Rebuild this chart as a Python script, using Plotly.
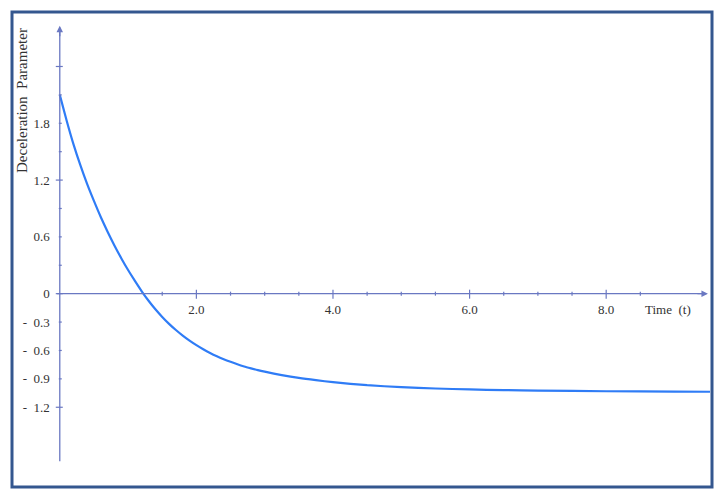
import plotly.graph_objects as go

# ---- data ----
t_vals = [0.0, 0.1, 0.2, 0.3, 0.4, 0.5, 0.6, 0.7, 0.8, 0.9, 1.0, 1.1, 1.2, 1.3,
          1.4, 1.5, 1.6, 1.7, 1.8, 1.9, 2.0, 2.1, 2.2, 2.3, 2.4, 2.5, 2.6, 2.7,
          2.8, 2.9, 3.0, 3.25, 3.5, 3.75, 4.0, 4.5, 5.0, 5.5, 6.0, 6.5, 7.0,
          8.0, 9.0, 9.52]
q_vals = [2.10, 1.83, 1.58, 1.36, 1.16, 0.98, 0.81, 0.655, 0.51, 0.375, 0.25,
          0.135, 0.025, -0.075, -0.165, -0.246, -0.319, -0.384, -0.443, -0.496,
          -0.544, -0.587, -0.626, -0.661, -0.692, -0.720, -0.746, -0.769,
          -0.789, -0.808, -0.824, -0.860, -0.890, -0.914, -0.935, -0.967,
          -0.988, -1.002, -1.012, -1.019, -1.024, -1.031, -1.035, -1.036]

x_label_vals = [2, 4, 6, 8]
x_label_text = ["2.0", "4.0", "6.0", "8.0"]
x_major_ticks = [2, 4, 6, 8]
x_minor_ticks = [1.5, 2.5, 3.0, 3.5, 4.5, 5.0, 5.5, 6.5, 7.0, 7.5, 8.5]

NB = "\u00a0"
y_label_vals = [1.8, 1.2, 0.6, 0, -0.3, -0.6, -0.9, -1.2]
y_label_text = ["1.8", "1.2", "0.6", "0", "-" + NB * 2 + "0.3", "-" + NB * 2 + "0.6",
                "-" + NB * 2 + "0.9", "-" + NB * 2 + "1.2"]
y_major_ticks = [2.4, 1.2, 0, -1.2]
y_minor_ticks = [2.1, 1.8, 1.5, 0.9, 0.6, 0.3, -0.3, -0.6, -0.9]

X_RANGE = [-0.07, 9.52]
Y_RANGE = [-1.81, 2.87]
X_AXIS_END = 9.49
Y_AXIS_TOP = 2.83
Y_AXIS_BOTTOM = -1.77

# ---- layout geometry (page body has an 8px margin) ----
OFF = 8
W, H = 722 - OFF, 493 - OFF
L, T = 55 - OFF, 22 - OFF
PW, PH = 655, 443
R, B = W - L - PW, H - T - PH

def px_x(p):  # window pixel -> paper x
    return (p - OFF - L) / PW

def px_y(p):  # window pixel -> paper y
    return (T + PH - (p - OFF)) / PH

AXIS_COLOR = "#6a78c2"
CURVE_COLOR = "#2f7cf6"
FRAME_COLOR = "#34578f"
TEXT_COLOR = "#333333"
SERIF = "Liberation Serif, Times New Roman, serif"

fig = go.Figure()
fig.add_trace(go.Scatter(
    x=t_vals, y=q_vals, mode="lines",
    line=dict(color=CURVE_COLOR, width=2.2, shape="spline", smoothing=0.6),
    hoverinfo="skip", showlegend=False,
))

shapes = []
# frame
shapes.append(dict(type="rect", xref="paper", yref="paper",
                   x0=px_x(12), x1=px_x(712), y0=px_y(487), y1=px_y(12),
                   line=dict(color=FRAME_COLOR, width=3), layer="below"))
# y axis line
shapes.append(dict(type="line", xref="x", yref="y", x0=0, x1=0,
                   y0=Y_AXIS_BOTTOM, y1=Y_AXIS_TOP - 0.05,
                   line=dict(color=AXIS_COLOR, width=1.3)))
# x axis line
shapes.append(dict(type="line", xref="x", yref="y", x0=-0.04, x1=X_AXIS_END - 0.05,
                   y0=0, y1=0, line=dict(color=AXIS_COLOR, width=1.3)))

for v in x_major_ticks:
    shapes.append(dict(type="line", xref="x", yref="y", ysizemode="pixel", yanchor=0,
                       x0=v, x1=v, y0=-5, y1=4, line=dict(color=AXIS_COLOR, width=1.2)))
for v in x_minor_ticks:
    shapes.append(dict(type="line", xref="x", yref="y", ysizemode="pixel", yanchor=0,
                       x0=v, x1=v, y0=-2, y1=2, line=dict(color=AXIS_COLOR, width=1.2)))
for v in y_major_ticks:
    shapes.append(dict(type="line", xref="x", yref="y", xsizemode="pixel", xanchor=0,
                       x0=-4, x1=3, y0=v, y1=v, line=dict(color=AXIS_COLOR, width=1.2)))
for v in y_minor_ticks:
    shapes.append(dict(type="line", xref="x", yref="y", xsizemode="pixel", xanchor=0,
                       x0=-1, x1=2, y0=v, y1=v, line=dict(color=AXIS_COLOR, width=1.2)))

annotations = [
    dict(x=X_AXIS_END, y=0, xref="x", yref="y", ax=-12, ay=0, axref="pixel", ayref="pixel",
         text="", showarrow=True, arrowhead=2, arrowsize=1, arrowwidth=1.3,
         arrowcolor=AXIS_COLOR),
    dict(x=0, y=Y_AXIS_TOP, xref="x", yref="y", ax=0, ay=12, axref="pixel", ayref="pixel",
         text="", showarrow=True, arrowhead=2, arrowsize=1, arrowwidth=1.3,
         arrowcolor=AXIS_COLOR),
    dict(x=8.9, y=-0.17, xref="x", yref="y", text="Time" + NB * 2 + "(t)", showarrow=False,
         xanchor="center", yanchor="middle",
         font=dict(family=SERIF, size=13, color=TEXT_COLOR)),
    dict(x=px_x(22), y=px_y(101), xref="paper", yref="paper",
         text="Deceleration" + NB * 2 + "Parameter", textangle=-90, showarrow=False,
         xanchor="center", yanchor="middle",
         font=dict(family=SERIF, size=15, color=TEXT_COLOR)),
]

x_pos = (0 - Y_RANGE[0]) / (Y_RANGE[1] - Y_RANGE[0])
y_pos = (0 - X_RANGE[0]) / (X_RANGE[1] - X_RANGE[0])

fig.update_layout(
    width=W, height=H,
    margin=dict(l=L, r=R, t=T, b=B, pad=0),
    paper_bgcolor="white", plot_bgcolor="white",
    shapes=shapes, annotations=annotations,
    xaxis=dict(range=X_RANGE, anchor="free", position=x_pos, showline=False,
               showgrid=False, zeroline=False, ticks="",
               tickmode="array", tickvals=x_label_vals, ticktext=x_label_text,
               ticklabelstandoff=6,
               tickfont=dict(family=SERIF, size=13, color=TEXT_COLOR)),
    yaxis=dict(range=Y_RANGE, anchor="free", position=y_pos, showline=False,
               showgrid=False, zeroline=False, ticks="",
               tickmode="array", tickvals=y_label_vals, ticktext=y_label_text,
               ticklabelstandoff=10,
               tickfont=dict(family=SERIF, size=13, color=TEXT_COLOR)),
    showlegend=False,
)

fig.write_html("out.html")
